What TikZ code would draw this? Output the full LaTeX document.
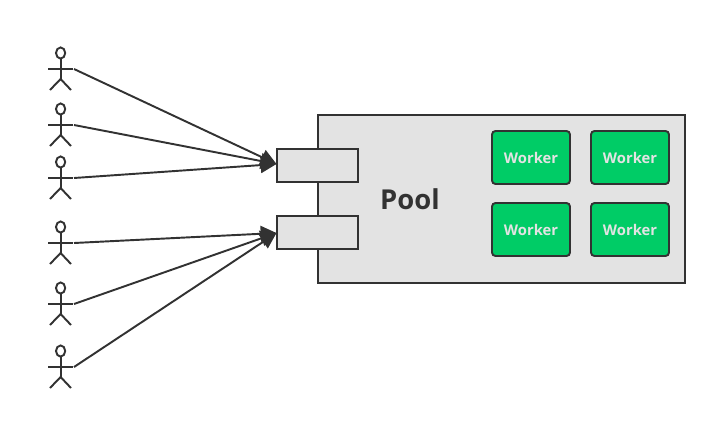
\documentclass[tikz,border=0pt]{standalone}
\usepackage{fontspec}
\setmainfont{Open Sans}[BoldFont={Open Sans Bold}]
\usetikzlibrary{arrows.meta}

\definecolor{poolgray}{HTML}{E3E3E3}
\definecolor{workergreen}{HTML}{00CC66}
\definecolor{inkdark}{HTML}{323232}

\tikzset{
  ink/.style={draw=inkdark, line width=1.1pt},
  poolbox/.style={ink, fill=poolgray, minimum width=7.34cm, minimum height=3.36cm, inner sep=0pt},
  portbox/.style={ink, fill=poolgray, minimum width=1.62cm, minimum height=0.66cm, inner sep=0pt},
  workerbox/.style={ink, fill=workergreen, rounded corners=2pt, minimum width=1.56cm, minimum height=1.06cm,
    inner sep=0pt, text=poolgray, font=\bfseries\fontsize{8.4}{10}\selectfont},
  link/.style={ink, -{Triangle[length=9pt,width=9pt]}},
  pics/actor/.style={code={
    \draw[ink] (0.6,-16) ellipse (4.6 and 5.6);
    \draw[ink] (0.6,-10.4) -- (0.6,10);
    \draw[ink] (-12,0) -- (13,0);
    \draw[ink] (-10,21) -- (0.6,10) -- (11,21);
    \coordinate (hand) at (14,0);
  }}
}

\begin{document}
\begin{tikzpicture}[x=0.02cm,y=-0.02cm]
\useasboundingbox (0,0) rectangle (717,420);

% pool and its two ports
\node[poolbox] (pool) at (501.5,199) {};
\node[portbox] (port1) at (317.8,165.5) {};
\node[portbox] (port2) at (317.8,232.5) {};
\node[inner sep=0pt, text=inkdark, font=\bfseries\fontsize{15.6}{18}\selectfont] (poollabel) at (410,199) {Pool};

% workers
\node[workerbox] (w1) at (531,157.5) {Worker};
\node[workerbox] (w2) at (630,157.5) {Worker};
\node[workerbox] (w3) at (531,229.5) {Worker};
\node[workerbox] (w4) at (630,229.5) {Worker};

% clients
\pic (a1) at (60,69) {actor};
\pic (a2) at (60,125) {actor};
\pic (a3) at (60,178) {actor};
\pic (a4) at (60,243) {actor};
\pic (a5) at (60,304) {actor};
\pic (a6) at (60,367) {actor};

% tips stop on the left edge of each port
\coordinate (in1) at (276.5,164);
\coordinate (in2) at (276.5,233);
\draw[link] (a1hand) -- (in1);
\draw[link] (a2hand) -- (in1);
\draw[link] (a3hand) -- (in1);
\draw[link] (a4hand) -- (in2);
\draw[link] (a5hand) -- (in2);
\draw[link] (a6hand) -- (in2);
\end{tikzpicture}
\end{document}
